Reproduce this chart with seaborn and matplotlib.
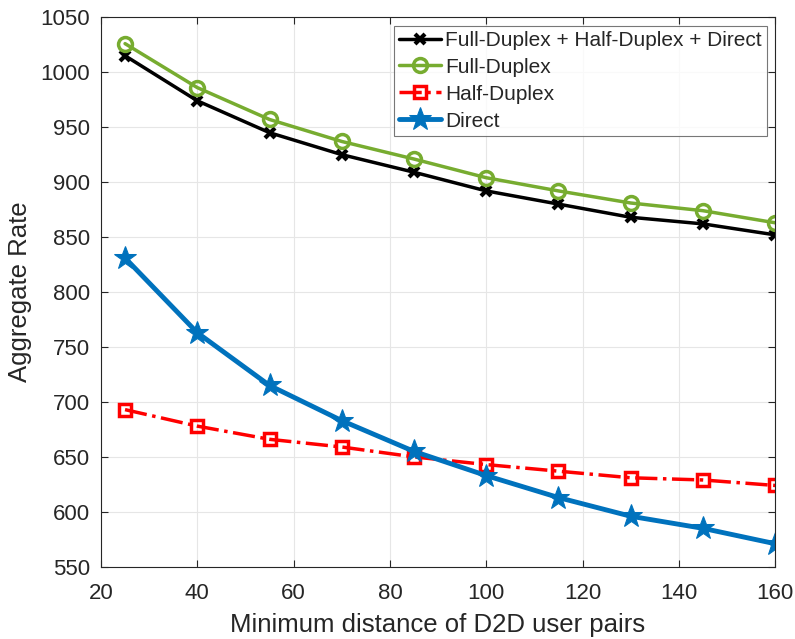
import matplotlib
matplotlib.use('Agg')
import matplotlib.pyplot as plt
import seaborn as sns

sns.set_style('whitegrid')
plt.rcParams['font.family'] = ['Liberation Sans', 'DejaVu Sans']

distance = [25, 40, 55, 70, 85, 100, 115, 130, 145, 160]
combined = [1015, 974, 945, 925, 909, 892, 880, 868, 862, 852]
full_duplex = [1026, 986, 957, 937, 921, 904, 892, 881, 874, 863]
half_duplex = [693, 678, 666, 659, 650, 643, 637, 631, 629, 624]
direct = [831, 763, 715, 683, 655, 633, 613, 596, 585, 571]

fig = plt.figure(figsize=(7.95, 6.39), dpi=100)
ax = fig.add_axes([0.127, 0.113, 0.848, 0.86])

sns.lineplot(x=distance, y=combined, ax=ax, color='black', lw=2.5,
             marker='x', markersize=7, markeredgecolor='black', markeredgewidth=3,
             label='Full-Duplex + Half-Duplex + Direct')
sns.lineplot(x=distance, y=full_duplex, ax=ax, color='#77AC30', lw=2.5,
             marker='o', markersize=10, markerfacecolor='none',
             markeredgecolor='#77AC30', markeredgewidth=2.5, label='Full-Duplex')
sns.lineplot(x=distance, y=half_duplex, ax=ax, color='#FF0000', lw=2.5,
             linestyle='-.', marker='s', markersize=8, markerfacecolor='none',
             markeredgecolor='#FF0000', markeredgewidth=2.5, label='Half-Duplex')
sns.lineplot(x=distance, y=direct, ax=ax, color='#0072BD', lw=3.5,
             marker='*', markersize=17, markeredgecolor='#0072BD', label='Direct')

ax.set_xlim(20, 160)
ax.set_ylim(550, 1050)
ax.set_xticks(range(20, 161, 20))
ax.set_yticks(range(550, 1051, 50))
ax.grid(True, color='#e6e6e6', lw=0.8)
for s in ax.spines.values():
    s.set_color('#262626')
    s.set_linewidth(0.8)
ax.tick_params(direction='in', length=5, labelsize=16, colors='#262626',
               top=True, right=True, bottom=True, left=True)
ax.tick_params(axis='x', pad=12)
ax.tick_params(axis='y', pad=8)
ax.set_xlabel('Minimum distance of D2D user pairs', fontsize=18.5,
              color='#262626', labelpad=6)
ax.set_ylabel('Aggregate Rate', fontsize=18.5, color='#262626', labelpad=6)

leg = ax.legend(loc='upper right', fontsize=15, frameon=True, fancybox=False,
                borderpad=0.25, labelspacing=0.38, handlelength=2.0,
                handletextpad=0.2, borderaxespad=0.4)
leg.get_frame().set_edgecolor('#555555')
leg.get_frame().set_linewidth(0.8)

fig.savefig('out.png', dpi=100)
